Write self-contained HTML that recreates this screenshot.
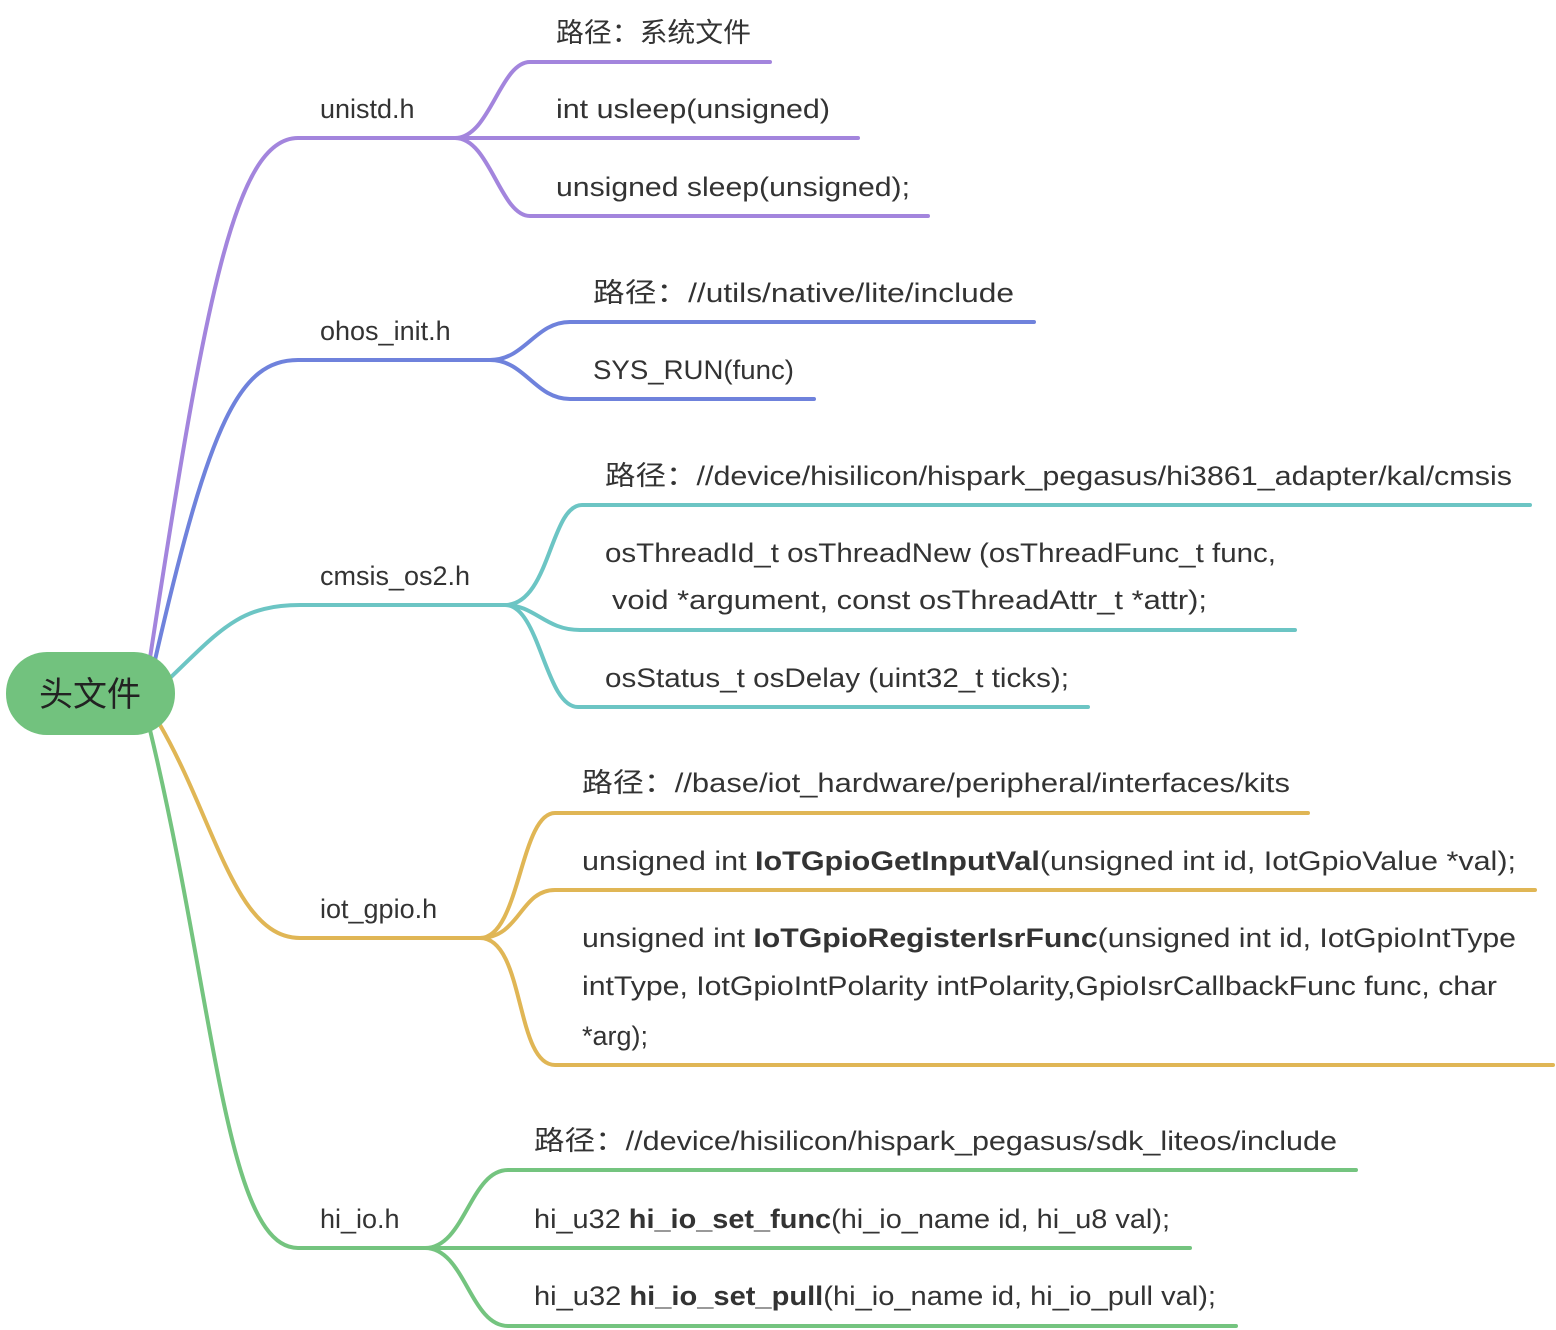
<!DOCTYPE html>
<html><head><meta charset="utf-8"><style>
html,body{margin:0;padding:0;background:#fff;}
svg{display:block;}
text{font-family:"Liberation Sans","Noto Sans CJK SC",sans-serif;font-size:27px;fill:#333;}
</style></head><body>
<svg width="1556" height="1330" viewBox="0 0 1556 1330" xmlns="http://www.w3.org/2000/svg">
<g fill="none" stroke-width="4" stroke-linecap="round">
<!-- unistd -->
<g stroke="#a385dd">
<path d="M150,658 C205,300 235,138 298,138 L455,138"/>
<path d="M455,138 C490,138 500,62 530,62 L770,62"/>
<path d="M455,138 L858,138"/>
<path d="M455,138 C490,138 500,216 530,216 L928,216"/>
</g>
<!-- ohos -->
<g stroke="#6f82dc">
<path d="M155,660 C210,420 240,360 298,360 L490,360"/>
<path d="M490,360 C525,360 535,322 570,322 L1034,322"/>
<path d="M490,360 C525,360 535,399 570,399 L814,399"/>
</g>
<!-- cmsis -->
<g stroke="#6cc5c4">
<path d="M170,678 C220,630 240,605 300,605 L505,605"/>
<path d="M505,605 C550,605 550,505 582,505 L1530,505"/>
<path d="M505,605 C535,605 545,630 580,630 L1295,630"/>
<path d="M505,605 C540,605 545,707 578,707 L1088,707"/>
</g>
<!-- iot_gpio -->
<g stroke="#e0b655">
<path d="M160,725 C215,820 235,938 300,938 L480,938"/>
<path d="M480,938 C520,938 520,813 555,813 L1308,813"/>
<path d="M480,938 C520,938 520,890 555,890 L1535,890"/>
<path d="M480,938 C525,938 515,1065 555,1065 L1553,1065"/>
</g>
<!-- hi_io -->
<g stroke="#74c47f">
<path d="M150,730 C215,1000 225,1248 298,1248 L425,1248"/>
<path d="M425,1248 C465,1248 470,1170 508,1170 L1356,1170"/>
<path d="M425,1248 L1190,1248"/>
<path d="M425,1248 C465,1248 470,1326 508,1326 L1236,1326"/>
</g>
</g>
<rect x="6" y="652" width="169" height="83" rx="41" fill="#72c27e"/>
<text x="90" y="706" text-anchor="middle" style="font-size:34px;fill:#222">头文件</text>

<text x="320" y="118">unistd.h</text>
<text x="556" y="42" textLength="195" lengthAdjust="spacingAndGlyphs">路径：系统文件</text>
<text x="556" y="118" textLength="274" lengthAdjust="spacingAndGlyphs">int usleep(unsigned)</text>
<text x="556" y="196" textLength="354" lengthAdjust="spacingAndGlyphs">unsigned sleep(unsigned);</text>

<text x="320" y="340">ohos_init.h</text>
<text x="593" y="302" textLength="421" lengthAdjust="spacingAndGlyphs">路径：//utils/native/lite/include</text>
<text x="593" y="379" textLength="201" lengthAdjust="spacingAndGlyphs">SYS_RUN(func)</text>

<text x="320" y="585">cmsis_os2.h</text>
<text x="605" y="485" textLength="907" lengthAdjust="spacingAndGlyphs">路径：//device/hisilicon/hispark_pegasus/hi3861_adapter/kal/cmsis</text>
<text x="605" y="562" textLength="671" lengthAdjust="spacingAndGlyphs">osThreadId_t osThreadNew (osThreadFunc_t func,</text>
<text x="612" y="609" textLength="595" lengthAdjust="spacingAndGlyphs">void *argument, const osThreadAttr_t *attr);</text>
<text x="605" y="687" textLength="464" lengthAdjust="spacingAndGlyphs">osStatus_t osDelay (uint32_t ticks);</text>

<text x="320" y="918">iot_gpio.h</text>
<text x="582" y="792" textLength="708" lengthAdjust="spacingAndGlyphs">路径：//base/iot_hardware/peripheral/interfaces/kits</text>
<text x="582" y="870" textLength="934" lengthAdjust="spacingAndGlyphs">unsigned int <tspan font-weight="bold">IoTGpioGetInputVal</tspan>(unsigned int id, IotGpioValue *val);</text>
<text x="582" y="947" textLength="934" lengthAdjust="spacingAndGlyphs">unsigned int <tspan font-weight="bold">IoTGpioRegisterIsrFunc</tspan>(unsigned int id, IotGpioIntType</text>
<text x="582" y="995" textLength="915" lengthAdjust="spacingAndGlyphs">intType, IotGpioIntPolarity intPolarity,GpioIsrCallbackFunc func, char</text>
<text x="582" y="1045">*arg);</text>

<text x="320" y="1228">hi_io.h</text>
<text x="534" y="1150" textLength="803" lengthAdjust="spacingAndGlyphs">路径：//device/hisilicon/hispark_pegasus/sdk_liteos/include</text>
<text x="534" y="1228" textLength="636" lengthAdjust="spacingAndGlyphs">hi_u32 <tspan font-weight="bold">hi_io_set_func</tspan>(hi_io_name id, hi_u8 val);</text>
<text x="534" y="1305" textLength="682" lengthAdjust="spacingAndGlyphs">hi_u32 <tspan font-weight="bold">hi_io_set_pull</tspan>(hi_io_name id, hi_io_pull val);</text>
</svg>
</body></html>
